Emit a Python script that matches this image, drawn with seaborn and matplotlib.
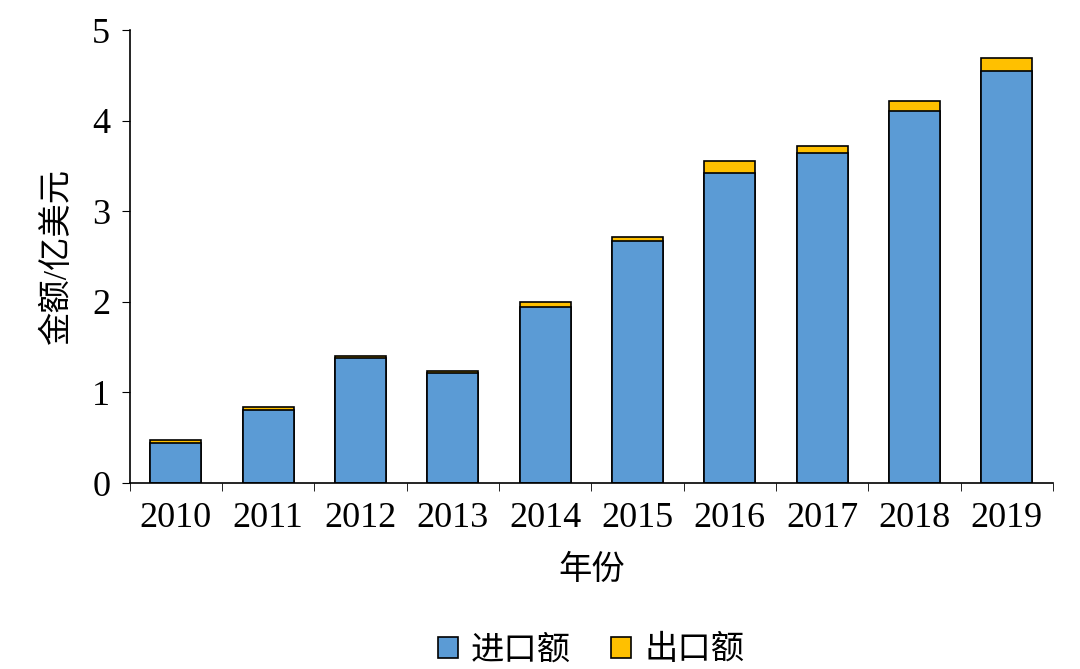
import matplotlib
matplotlib.use("Agg")
import matplotlib.pyplot as plt
import seaborn as sns
import pandas as pd
import numpy as np

# values (100M USD)
years = ['2010', '2011', '2012', '2013', '2014', '2015', '2016', '2017', '2018', '2019']
imports = [0.44, 0.81, 1.38, 1.21, 1.94, 2.67, 3.42, 3.64, 4.11, 4.55]
exports = [0.03, 0.03, 0.02, 0.03, 0.06, 0.05, 0.14, 0.08, 0.11, 0.14]

sns.set_style("white")
plt.rcParams['font.family'] = ['Liberation Serif', 'Noto Sans CJK SC']
plt.rcParams['text.color'] = 'black'
plt.rcParams['axes.labelcolor'] = 'black'
plt.rcParams['xtick.color'] = 'black'
plt.rcParams['ytick.color'] = 'black'

df = pd.DataFrame({'年份': years, '进口额': imports, '出口额': exports})
df['合计'] = df['进口额'] + df['出口额']

fig, ax = plt.subplots(figsize=(10.8, 6.69), dpi=100)
sns.barplot(data=df, x='年份', y='合计', color='#FFC000', edgecolor='black', saturation=1,
            linewidth=1.2, width=0.55, ax=ax, label='出口额')
sns.barplot(data=df, x='年份', y='进口额', color='#5B9BD5', edgecolor='black', saturation=1,
            linewidth=1.2, width=0.55, ax=ax, label='进口额')

ax.set_xlim(-0.5, len(years) - 0.5)
ax.set_ylim(0, 5)
ax.set_yticks([0, 1, 2, 3, 4, 5])
ax.set_xticks(np.arange(-0.5, len(years), 1.0), minor=True)
ax.tick_params(axis='both', which='major', labelsize=26, length=6, direction='out', left=True, bottom=False, pad=8)
ax.tick_params(axis='x', which='minor', length=6, bottom=True, direction='out')
ax.set_xlabel('年份', fontsize=24, labelpad=14)
ax.set_ylabel('金额/亿美元', fontsize=24, labelpad=14)
sns.despine(ax=ax)
for s in ['left', 'bottom']:
    ax.spines[s].set_color('black')
    ax.spines[s].set_linewidth(1.2)

h, l = ax.get_legend_handles_labels()
order = [l.index('进口额'), l.index('出口额')]
ax.legend([h[i] for i in order], [l[i] for i in order], loc='upper center',
          bbox_to_anchor=(0.5, -0.27), ncol=2, frameon=False, fontsize=24,
          handlelength=0.6, handleheight=0.6, columnspacing=1.2, handletextpad=0.4)

plt.subplots_adjust(left=0.12, right=0.975, top=0.955, bottom=0.278)
fig.savefig('out.png')
